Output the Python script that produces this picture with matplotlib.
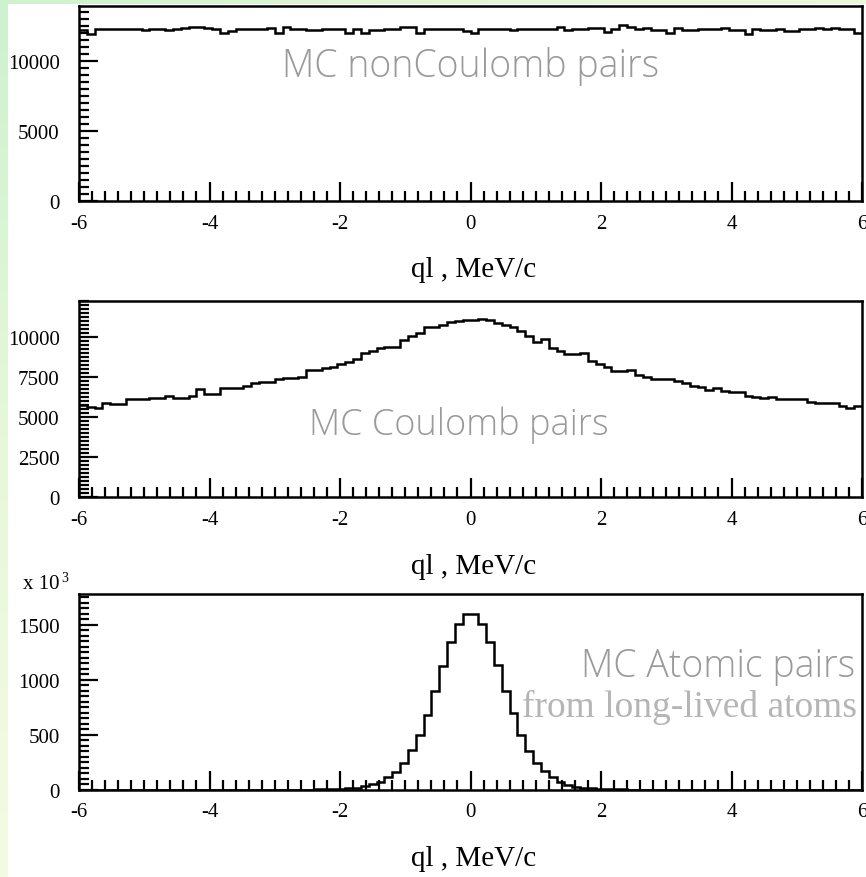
import numpy as np
import matplotlib
matplotlib.use("Agg")
import matplotlib.pyplot as plt
from matplotlib.ticker import MultipleLocator
from matplotlib.colors import LinearSegmentedColormap

plt.rcParams['axes.unicode_minus'] = False

# ---------------- data ----------------
x_edges_range = (-6.0, 6.0)
n_bins = 100
x_ticks = [-6, -4, -2, 0, 2, 4, 6]

noncoulomb = [
    12200, 11950, 12280, 12300, 12260, 12260, 12300, 12300, 12190, 12260,
    12260, 12190, 12300, 12330, 12430, 12420, 12380, 12260, 12020, 12120,
    12260, 12260, 12280, 12310, 12380, 12020, 12430, 12300, 12260, 12190,
    12190, 12260, 12300, 12310, 12020, 12300, 11990, 12190, 12230, 12260,
    12260, 12430, 12430, 12000, 12260, 12260, 12260, 12260, 12260, 12120,
    12020, 12260, 12260, 12300, 12260, 12190, 12260, 12260, 12300, 12300,
    12300, 12430, 12190, 12260, 12300, 12380, 12380, 12070, 12260, 12545,
    12430, 12300, 12355, 12190, 12190, 12020, 12380, 12190, 12190, 12260,
    12260, 12300, 12355, 12190, 12190, 11950, 12300, 12190, 12240, 12300,
    12117, 12117, 12260, 12260, 12355, 12260, 12380, 12300, 12260, 11998,
]

coulomb = [
    5763, 5650, 5616, 5912, 5824, 5824, 6140, 6140, 6140, 6226,
    6226, 6352, 6226, 6226, 6352, 6748, 6453, 6453, 6811, 6855,
    6855, 6981, 7126, 7189, 7189, 7377, 7484, 7484, 7526, 7943,
    7943, 8069, 8176, 8321, 8490, 8656, 9013, 9160, 9327, 9434,
    9434, 9852, 10063, 10270, 10629, 10629, 10755, 10962, 11006, 11107,
    11110, 11151, 11067, 10900, 10795, 10648, 10377, 10063, 9747, 9894,
    9369, 9160, 8950, 8950, 9013, 8530, 8321, 8176, 7901, 7901,
    7943, 7650, 7547, 7397, 7397, 7377, 7295, 7126, 6981, 6895,
    6706, 6811, 6643, 6604, 6604, 6352, 6289, 6182, 6245, 6140,
    6140, 6140, 6140, 5975, 5890, 5890, 5890, 5723, 5616, 5723,
]

# atomic pairs, in units of 10^3
atomic = [
    0, 0, 0, 0, 0, 0, 0, 0, 0, 0,
    0, 0, 0, 0, 0, 0, 0, 0, 0, 0,
    0, 0, 0, 0, 0, 0, 0, 1, 1, 1,
    2, 3, 5, 8, 13, 20, 32, 50, 73, 118,
    164, 243, 361, 497, 682, 900, 1127, 1340, 1506, 1600,
    1600, 1506, 1340, 1135, 900, 700, 497, 355, 243, 173,
    112, 67, 45, 28, 18, 11, 7, 4, 3, 2,
    1, 1, 1, 0, 0, 0, 0, 0, 0, 0,
    0, 0, 0, 0, 0, 0, 0, 0, 0, 0,
    0, 0, 0, 0, 0, 0, 0, 0, 0, 0,
]

top_yticks = [0, 5000, 10000]
mid_yticks = [0, 2500, 5000, 7500, 10000]
bot_yticks = [0, 500, 1000, 1500]

xlabel = "ql , MeV/c"
label_top = "MC nonCoulomb pairs"
label_mid = "MC Coulomb pairs"
label_bot1 = "MC Atomic pairs"
label_bot2 = "from long-lived atoms"

# ---------------- figure ----------------
W, H = 866, 878
fig = plt.figure(figsize=(W / 100, H / 100), dpi=100)
fig.patch.set_facecolor("white")

# background decoration: green gradient strip on the left, band on top
bg = fig.add_axes([0, 0, 1, 1], zorder=-10)
bg.set_xlim(0, W)
bg.set_ylim(H, 0)
bg.axis("off")
grad = np.linspace(0, 1, 256).reshape(-1, 1)
cm_strip = LinearSegmentedColormap.from_list("s", ["#cdf2cd", "#e6f8d8", "#f4fbe2"])
bg.imshow(grad, cmap=cm_strip, extent=[0, 8, H, 0], aspect="auto")
cm_top = LinearSegmentedColormap.from_list("t", ["#cdf2cd", "#e2f6d6", "#eaf8de"])
bg.imshow(grad.T, cmap=cm_top, extent=[0, W, 5, 0], aspect="auto")

serif = ["Liberation Serif", "DejaVu Serif"]
thin = ["Open Sans", "Lato", "DejaVu Sans"]

edges = np.linspace(x_edges_range[0], x_edges_range[1], n_bins + 1)

def make_axes(rect, values, ylim, yticks, yminor):
    ax = fig.add_axes(rect)
    ax.stairs(values, edges, baseline=None, color="black", linewidth=1.8)
    ax.set_xlim(*x_edges_range)
    ax.set_ylim(*ylim)
    ax.set_xticks(x_ticks)
    ax.set_xticklabels([str(t) for t in x_ticks], fontfamily=serif, fontsize=15)
    ax.set_yticks(yticks)
    ax.set_yticklabels([str(t) for t in yticks], fontfamily=serif, fontsize=15)
    ax.xaxis.set_minor_locator(MultipleLocator(0.2))
    ax.yaxis.set_minor_locator(MultipleLocator(yminor))
    ax.tick_params(which="both", direction="in", top=False, right=False, width=1.6)
    ax.tick_params(which="major", length=14)
    ax.tick_params(which="minor", length=7)
    ax.tick_params(axis="x", pad=9)
    ax.tick_params(axis="y", pad=14)
    for s in ax.spines.values():
        s.set_linewidth(1.8)
    return ax

L = 79 / W
Wd = (862 - 79) / W

def rect(top_px, bot_px):
    return [L, 1 - bot_px / H, Wd, (bot_px - top_px) / H]

ax1 = make_axes(rect(7, 202.3), noncoulomb, (0, 13930), top_yticks, 500)
ax2 = make_axes(rect(301.7, 498.3), coulomb, (0, 12300), mid_yticks, 250)
ax3 = make_axes(rect(595, 790.7), atomic, (0, 1780), bot_yticks, 50)

# x axis titles
for ypx in (270, 567, 859):
    fig.text(474 / W, 1 - ypx / H, xlabel, fontfamily=serif, fontsize=21,
             ha="center", va="center")

# in-plot labels
grey = "#9a9a9a"
fig.text(471 / W, 1 - 67 / H, label_top, fontfamily=thin, fontweight="light",
         fontsize=27, color=grey, ha="center", va="center")
fig.text(459 / W, 1 - 425 / H, label_mid, fontfamily=thin, fontweight="light",
         fontsize=26, color=grey, ha="center", va="center")
fig.text(855 / W, 1 - 667 / H, label_bot1, fontfamily=thin, fontweight="light",
         fontsize=27, color=grey, ha="right", va="center")
fig.text(857 / W, 1 - 707 / H, label_bot2, fontfamily=serif,
         fontsize=27, color="#b5b5b5", ha="right", va="center")

# multiplier
fig.text(23 / W, 1 - 585 / H, "x 10", fontfamily=serif, fontsize=15,
         ha="left", va="center")
fig.text(61 / W, 1 - 578 / H, "3", fontfamily=serif, fontsize=10,
         ha="left", va="center")

fig.savefig("out.png", dpi=100)
